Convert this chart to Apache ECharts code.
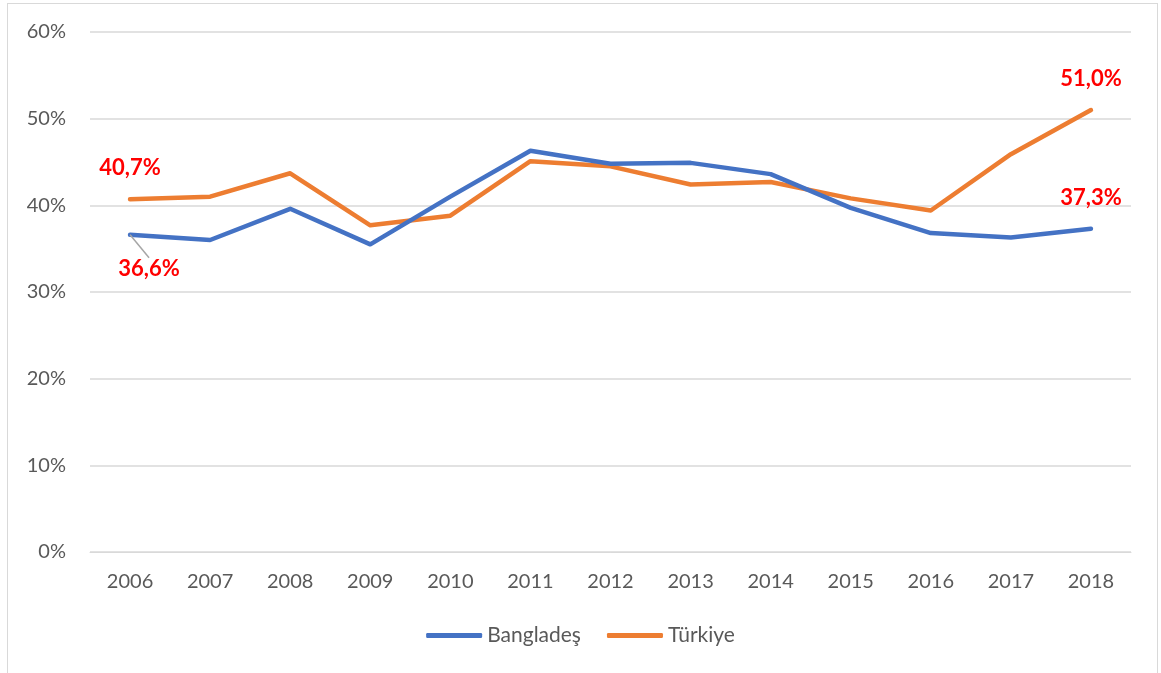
<!DOCTYPE html>
<html>
<head>
<meta charset="utf-8">
<script src="https://cdn.jsdelivr.net/npm/echarts@6/dist/echarts.min.js"></script>
<style>
  html, body { margin: 0; padding: 0; background: #fff; }
  #frame {
    position: absolute; left: 7px; top: 3px; width: 1151px; height: 690px;
    border: 1px solid #d9d9d9; box-sizing: border-box;
  }
  #chart { position: absolute; left: 0; top: 0; width: 1161px; height: 673px; }
</style>
</head>
<body>
<div id="frame"></div>
<div id="chart"></div>
<script>
// yıllar
const years = ['2006', '2007', '2008', '2009', '2010', '2011', '2012', '2013', '2014', '2015', '2016', '2017', '2018'];
// değerler (%)
const bangladesh = [36.6, 36.0, 39.6, 35.5, 41.0, 46.3, 44.8, 44.9, 43.6, 39.7, 36.8, 36.3, 37.3];
const turkiye = [40.7, 41.0, 43.7, 37.7, 38.8, 45.1, 44.5, 42.4, 42.7, 40.8, 39.4, 45.9, 51.0];
const yTicks = [0, 10, 20, 30, 40, 50, 60];

const fontName = 'Lato, "Open Sans", sans-serif';
const fmt = v => v.toFixed(1).replace('.', ',') + '%';

const redLabel = {
  show: true,
  color: '#ff0000',
  fontWeight: 'bold',
  fontSize: 22,
  fontFamily: fontName,
  formatter: p => fmt(p.value)
};

// sadece ilk ve son noktalara etiket
function withLabels(arr, firstLabel, lastLabel, firstLine) {
  return arr.map((v, i) => {
    if (i === 0) return { value: v, label: firstLabel, labelLine: { show: !!firstLine } };
    if (i === arr.length - 1) return { value: v, label: lastLabel, labelLine: { show: false } };
    return v;
  });
}

const chart = echarts.init(document.getElementById('chart'));
chart.setOption({
  animation: false,
  textStyle: { fontFamily: fontName },
  grid: { left: 90, right: 30, top: 32, bottom: 121 },
  legend: {
    bottom: 22,
    left: 'center',
    itemWidth: 56,
    itemHeight: 5,
    itemGap: 26,
    icon: 'roundRect',
    textStyle: { fontSize: 21, color: '#595959', fontFamily: fontName },
    data: ['Bangladeş', 'Türkiye']
  },
  xAxis: {
    type: 'category',
    data: years,
    boundaryGap: true,
    axisLine: { show: true, lineStyle: { color: '#d9d9d9' } },
    axisTick: { show: false },
    axisLabel: { fontSize: 20, color: '#595959', margin: 20 }
  },
  yAxis: {
    type: 'value',
    min: yTicks[0],
    max: yTicks[yTicks.length - 1],
    interval: 10,
    axisLine: { show: false },
    axisTick: { show: false },
    splitLine: { lineStyle: { color: '#d9d9d9', width: 1.5 } },
    axisLabel: { fontSize: 20, color: '#595959', margin: 24, formatter: v => v + '%' }
  },
  series: [
    {
      name: 'Bangladeş',
      type: 'line',
      symbol: 'circle',
      symbolSize: 0.1,
      z: 3,
      lineStyle: { color: '#4472c4', width: 4.5, cap: 'round', join: 'round' },
      itemStyle: { color: '#4472c4' },
      labelLine: { show: true, lineStyle: { color: '#a6a6a6', width: 1.5 } },
      labelLayout: p => (p.dataIndex === 0 ? { dx: 19, dy: 12 } : null),
      data: withLabels(bangladesh,
        Object.assign({}, redLabel, { position: 'bottom', distance: 11 }),
        Object.assign({}, redLabel, { position: 'top', distance: 20 }), true)
    },
    {
      name: 'Türkiye',
      type: 'line',
      symbol: 'circle',
      symbolSize: 0.1,
      z: 2,
      lineStyle: { color: '#ed7d31', width: 4.5, cap: 'round', join: 'round' },
      itemStyle: { color: '#ed7d31' },
      data: withLabels(turkiye,
        Object.assign({}, redLabel, { position: 'top', distance: 20 }),
        Object.assign({}, redLabel, { position: 'top', distance: 20 }), false)
    }
  ]
});
</script>
</body>
</html>
